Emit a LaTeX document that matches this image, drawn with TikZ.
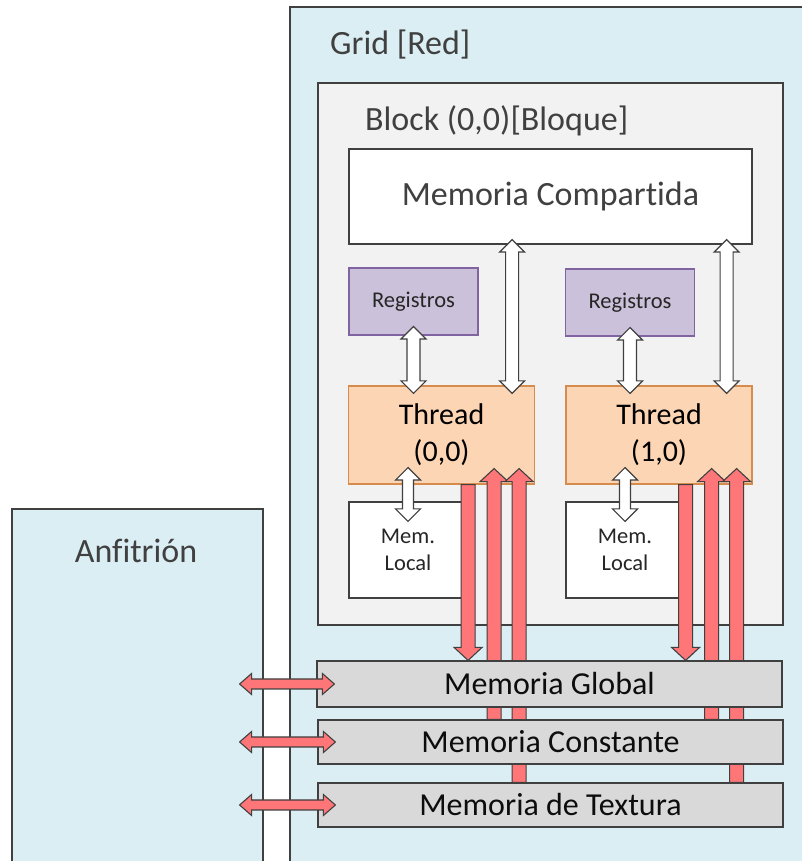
\documentclass[tikz,border=0pt]{standalone}
\usepackage{fontspec}
\setmainfont[Ligatures=CommonOff]{Carlito}
\usetikzlibrary{calc, positioning}
\pgfdeclarelayer{front}
\pgfsetlayers{main,front}

\definecolor{gridblue}{RGB}{218,238,243}
\definecolor{blockgray}{RGB}{242,242,242}
\definecolor{memgray}{RGB}{217,217,217}
\definecolor{edgegray}{RGB}{64,64,64}
\definecolor{textgray}{RGB}{64,64,64}
\definecolor{regfill}{RGB}{204,193,218}
\definecolor{regedge}{RGB}{128,100,162}
\definecolor{thrfill}{RGB}{252,213,181}
\definecolor{thredge}{RGB}{214,140,76}
\definecolor{redfill}{RGB}{255,118,120}

\tikzset{
  areabox/.style={rectangle, draw=edgegray, fill=gridblue, line width=1.2pt, inner sep=0pt},
  blockbox/.style={rectangle, draw=edgegray, fill=blockgray, line width=1.2pt, inner sep=0pt},
  sharedbox/.style={rectangle, draw=edgegray, fill=white, line width=1.2pt, inner sep=0pt,
                    minimum width=403pt, minimum height=95pt,
                    font=\fontsize{34}{40}\selectfont, text=textgray},
  regbox/.style={rectangle, draw=regedge, fill=regfill, line width=1.2pt, inner sep=0pt,
                 minimum width=129pt, minimum height=67pt,
                 font=\fontsize{22.5}{27}\selectfont, text=black!85},
  thrbox/.style={rectangle, draw=thredge, fill=thrfill, line width=1.2pt, inner sep=0pt,
                 minimum width=186pt, minimum height=98pt, align=center,
                 font=\fontsize{30}{37}\selectfont},
  localbox/.style={rectangle, draw=edgegray, fill=white, line width=1.2pt, inner sep=0pt,
                   minimum width=118pt, minimum height=96pt, align=center,
                   font=\fontsize{22.5}{27}\selectfont, text=black!85},
  membox/.style={rectangle, draw=edgegray, fill=memgray, line width=1.2pt, inner sep=0pt,
                 minimum width=465pt, minimum height=45pt,
                 font=\fontsize{32}{38}\selectfont, text=black!95},
  title/.style={font=\fontsize{34}{40}\selectfont, text=textgray, inner sep=0pt},
  warrow/.style={fill=white, draw=edgegray, line width=1.2pt, line join=miter},
  rarrow/.style={fill=redfill, draw=edgegray, line width=1.1pt, line join=miter},
}

% block arrow sizes
\newcommand{\arrshaft}{6.5pt}
\newcommand{\arrhead}{12.5pt}
\newcommand{\arrlen}{12.5pt}

% vertical double arrow: #2 top tip (gives x), #3 bottom tip
\newcommand{\vdblarrow}[3]{%
  \draw[#1] let \p1=#2, \p2=#3 in
    (\x1,\y1) -- ({\x1+\arrhead},{\y1-\arrlen}) -- ({\x1+\arrshaft},{\y1-\arrlen})
    -- ({\x1+\arrshaft},{\y2+\arrlen}) -- ({\x1+\arrhead},{\y2+\arrlen}) -- (\x1,\y2)
    -- ({\x1-\arrhead},{\y2+\arrlen}) -- ({\x1-\arrshaft},{\y2+\arrlen})
    -- ({\x1-\arrshaft},{\y1-\arrlen}) -- ({\x1-\arrhead},{\y1-\arrlen}) -- cycle;}
% upward arrow: #2 tip (gives x), #3 tail
\newcommand{\vuparrow}[3]{%
  \draw[#1] let \p1=#2, \p2=#3 in
    (\x1,\y1) -- ({\x1+\arrhead},{\y1-\arrlen}) -- ({\x1+\arrshaft},{\y1-\arrlen})
    -- ({\x1+\arrshaft},\y2) -- ({\x1-\arrshaft},\y2)
    -- ({\x1-\arrshaft},{\y1-\arrlen}) -- ({\x1-\arrhead},{\y1-\arrlen}) -- cycle;}
% downward arrow: #2 tail (gives x), #3 tip
\newcommand{\vdownarrow}[3]{%
  \draw[#1] let \p1=#2, \p2=#3 in
    ({\x1-\arrshaft},\y1) -- ({\x1+\arrshaft},\y1) -- ({\x1+\arrshaft},{\y2+\arrlen})
    -- ({\x1+\arrhead},{\y2+\arrlen}) -- (\x1,\y2) -- ({\x1-\arrhead},{\y2+\arrlen})
    -- ({\x1-\arrshaft},{\y2+\arrlen}) -- cycle;}
% horizontal double arrow: #2 left tip (gives y), #3 right tip
\newcommand{\hdblarrow}[3]{%
  \draw[#1] let \p1=#2, \p2=#3 in
    (\x1,\y1) -- ({\x1+\arrlen},{\y1+\arrhead}) -- ({\x1+\arrlen},{\y1+\arrshaft})
    -- ({\x2-\arrlen},{\y1+\arrshaft}) -- ({\x2-\arrlen},{\y1+\arrhead}) -- (\x2,\y1)
    -- ({\x2-\arrlen},{\y1-\arrhead}) -- ({\x2-\arrlen},{\y1-\arrshaft})
    -- ({\x1+\arrlen},{\y1-\arrshaft}) -- ({\x1+\arrlen},{\y1-\arrhead}) -- cycle;}

\begin{document}
\begin{tikzpicture}[x=1pt, y=1pt]
  \useasboundingbox (0,0) rectangle (801,861);
  \fill[white] (0,0) rectangle (801,861);

  % host and grid
  \node[areabox, minimum width=251pt, minimum height=362pt] (host) at (137.5,171) {};
  \node[title] (hostlbl) at (136,310) {Anfitrión};
  \node[areabox, minimum width=520pt, minimum height=864pt] (grid) at (550,422) {};
  \node[title, anchor=west] (gridlbl) at (330,816) {Grid [Red]};

  % block
  \node[blockbox, minimum width=465pt, minimum height=542pt] (block) at (550.5,507) {};
  \node[title, anchor=west] (blocklbl) at (365,740) {Block (0,0)[Bloque]};
  \node[sharedbox] (comp) at (550.5,664.5) {Memoria Compartida};

  \node[regbox] (reg1) at (413.5,559.5) {Registros};
  \node[regbox] (reg2) at (630,558.5) {Registros};
  \node[thrbox] (thr1) at (441.5,426) {Thread\\(0,0)};
  \node[thrbox] (thr2) at (659,426) {Thread\\(1,0)};
  \node[localbox] (loc1) at (408,311) {Mem.\\Local};
  \node[localbox] (loc2) at (625,311) {Mem.\\Local};

  % memories
  \begin{pgfonlayer}{front}
  \node[membox, minimum height=46pt] (glob) at (549.5,177) {Memoria Global};
  \node[membox, minimum height=44pt] (const) at (550.5,119) {Memoria Constante};
  \node[membox, minimum height=44pt] (tex) at (550.5,56) {Memoria de Textura};
  \end{pgfonlayer}

  % white arrows
  \vdblarrow{warrow}{($(reg1.south)+(0,9)$)}{($(thr1.north)+(0,-8)$)}
  \vdblarrow{warrow}{($(reg2.south)+(0,9)$)}{($(thr2.north)+(0,-8)$)}
  \vdblarrow{warrow}{($(comp.south -| thr1.north east)+(-23,5)$)}{($(thr1.north)+(0,-8)$)}
  \vdblarrow{warrow}{($(comp.south -| thr2.north east)+(-26,5)$)}{($(thr2.north)+(0,-8)$)}
  \renewcommand{\arrshaft}{5.5pt}
  \vdblarrow{warrow}{($(thr1.south -| loc1.north)+(0,17)$)}{($(loc1.north)+(0,-20)$)}
  \vdblarrow{warrow}{($(thr2.south -| loc2.north)+(0,17)$)}{($(loc2.north)+(0,-20)$)}

  % red arrows
  \renewcommand{\arrshaft}{7pt}
  \renewcommand{\arrhead}{14pt}
  \renewcommand{\arrlen}{13pt}
  \vdownarrow{rarrow}{($(thr1.south east)+(-67,0)$)}{(glob.north)}
  \vuparrow{rarrow}{($(thr1.south east)+(-41,16)$)}{(const.north)}
  \vuparrow{rarrow}{($(thr1.south east)+(-16,16)$)}{(tex.north)}
  \vdownarrow{rarrow}{($(thr2.south east)+(-67,0)$)}{(glob.north)}
  \vuparrow{rarrow}{($(thr2.south east)+(-41,16)$)}{(const.north)}
  \vuparrow{rarrow}{($(thr2.south east)+(-16,16)$)}{(tex.north)}

  % host links
  \renewcommand{\arrshaft}{5pt}
  \renewcommand{\arrhead}{10.5pt}
  \renewcommand{\arrlen}{12pt}
  \begin{pgfonlayer}{front}
  \hdblarrow{rarrow}{($(glob.west -| host.east)+(-24,0)$)}{($(glob.west)+(18,0)$)}
  \hdblarrow{rarrow}{($(const.west -| host.east)+(-24,0)$)}{($(const.west)+(18,0)$)}
  \hdblarrow{rarrow}{($(tex.west -| host.east)+(-24,0)$)}{($(tex.west)+(18,0)$)}
  \end{pgfonlayer}
\end{tikzpicture}
\end{document}
